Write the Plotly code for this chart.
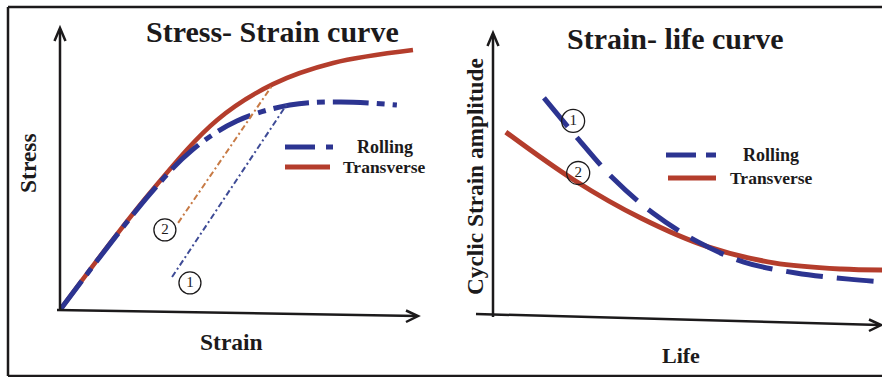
import plotly.graph_objects as go

W, H = 882, 377

# ---- Stress-strain panel (normalised units) ----
strain_transverse = [0, 0.251, 0.439, 0.595, 0.763, 0.986]
stress_transverse = [0, 0.415, 0.674, 0.801, 0.876, 0.922]

strain_rolling = [0, 0.251, 0.369, 0.494, 0.642, 0.782, 0.941]
stress_rolling = [0, 0.411, 0.567, 0.670, 0.727, 0.738, 0.727]

# elastic unloading lines: (strain, stress) start and end
unload_rolling_x = [0.313, 0.634]
unload_rolling_y = [0.117, 0.730]
unload_transverse_x = [0.330, 0.592]
unload_transverse_y = [0.309, 0.795]

marker_labels_left = ["1", "2"]
marker_x_left = [0.363, 0.293]
marker_y_left = [0.096, 0.284]

# ---- Strain-life panel (normalised units) ----
life_transverse = [0.033, 0.208, 0.380, 0.553, 0.722, 0.895, 1.0]
amp_transverse = [0.646, 0.475, 0.339, 0.236, 0.179, 0.157, 0.154]

life_rolling = [0.131, 0.221, 0.308, 0.411, 0.527, 0.645, 0.779, 0.915, 1.0]
amp_rolling = [0.768, 0.618, 0.482, 0.357, 0.254, 0.182, 0.143, 0.121, 0.111]

marker_labels_right = ["1", "2"]
marker_x_right = [0.206, 0.219]
marker_y_right = [0.686, 0.500]

series_names = ["Rolling", "Transverse"]

BLUE = "#2c3491"
RED = "#b43d2c"
ORANGE = "#c77a45"
SLATE = "#3e4b96"
INK = "#1c1a1b"
FONT = "Liberation Serif"


def fx(px):
    return px / W


def fy(py):
    return 1 - py / H


fig = go.Figure()

# left panel curves
fig.add_trace(go.Scatter(x=strain_transverse, y=stress_transverse, mode="lines",
                         line=dict(color=RED, width=4.5, shape="spline", smoothing=1.0),
                         xaxis="x", yaxis="y", hoverinfo="skip"))
fig.add_trace(go.Scatter(x=strain_rolling, y=stress_rolling, mode="lines",
                         line=dict(color=BLUE, width=5, shape="spline", smoothing=1.0,
                                   dash="36px,8px,8px,8px"),
                         xaxis="x", yaxis="y", hoverinfo="skip"))
fig.add_trace(go.Scatter(x=unload_transverse_x, y=unload_transverse_y, mode="lines",
                         line=dict(color=ORANGE, width=2, dash="6px,3px,2px,3px"),
                         xaxis="x", yaxis="y", hoverinfo="skip"))
fig.add_trace(go.Scatter(x=unload_rolling_x, y=unload_rolling_y, mode="lines",
                         line=dict(color=SLATE, width=2, dash="6px,3px,2px,3px"),
                         xaxis="x", yaxis="y", hoverinfo="skip"))
fig.add_trace(go.Scatter(x=marker_x_left, y=marker_y_left, mode="markers+text",
                         text=marker_labels_left, textposition="middle center",
                         textfont=dict(family=FONT, size=15, color=INK),
                         marker=dict(size=22, color="white", line=dict(color=INK, width=1.3)),
                         xaxis="x", yaxis="y", hoverinfo="skip"))

# right panel curves
fig.add_trace(go.Scatter(x=life_transverse, y=amp_transverse, mode="lines",
                         line=dict(color=RED, width=5, shape="spline", smoothing=1.0),
                         xaxis="x2", yaxis="y2", hoverinfo="skip"))
fig.add_trace(go.Scatter(x=life_rolling, y=amp_rolling, mode="lines",
                         line=dict(color=BLUE, width=5, shape="spline", smoothing=1.0,
                                   dash="37px,14px"),
                         xaxis="x2", yaxis="y2", hoverinfo="skip"))
fig.add_trace(go.Scatter(x=marker_x_right, y=marker_y_right, mode="markers+text",
                         text=marker_labels_right, textposition="middle center",
                         textfont=dict(family=FONT, size=15, color=INK),
                         marker=dict(size=23, color="rgba(255,255,255,0)",
                                     line=dict(color=INK, width=1.3)),
                         xaxis="x2", yaxis="y2", hoverinfo="skip"))

shapes = []


def seg(x0, y0, x1, y1, color=INK, width=2.5, dash="solid"):
    shapes.append(dict(type="line", xref="paper", yref="paper",
                       x0=fx(x0), y0=fy(y0), x1=fx(x1), y1=fy(y1),
                       line=dict(color=color, width=width, dash=dash)))


def path(points, color=INK, width=2.5):
    d = "M " + " L ".join(f"{fx(a):.5f},{fy(b):.5f}" for a, b in points)
    shapes.append(dict(type="path", xref="paper", yref="paper", path=d,
                       line=dict(color=color, width=width)))


# outer frame
seg(8, 7, 882, 7)
seg(8, 7, 8, 376)
seg(8, 376, 882, 376)

# left axes with arrows
seg(60, 311, 60, 29)
path([(54.5, 41), (60, 28), (65.5, 41)])
seg(57, 310, 417, 316)
path([(406, 310.5), (418, 316), (406, 322)])

# right axes with arrows
seg(493, 317, 493, 34)
path([(487.5, 46), (493, 33), (498.5, 46)])
seg(476, 314, 880, 325)
path([(869, 319.5), (881, 325), (869, 331)])

# legend samples
seg(285, 147, 315, 147, color=BLUE, width=5)
seg(326, 147, 333, 147, color=BLUE, width=5)
seg(285, 167, 330, 167, color=RED, width=5)
seg(666, 155, 696, 155, color=BLUE, width=5)
seg(706, 155, 716, 155, color=BLUE, width=5)
seg(668, 178, 716, 178, color=RED, width=5)

annotations = []


def label(txt, x, y, size, angle=0):
    annotations.append(dict(text=f"<b>{txt}</b>", xref="paper", yref="paper",
                            x=fx(x), y=fy(y), xanchor="center", yanchor="middle",
                            showarrow=False, textangle=angle,
                            font=dict(family=FONT, size=size, color=INK)))


label("Stress- Strain curve", 272, 31, 30)
label("Strain- life curve", 675, 39, 30)
label("Stress", 28, 163, 23.5, -90)
label("Strain", 232, 342, 23.5)
label("Cyclic Strain amplitude", 475, 177, 23.3, -90)
label("Life", 681, 355, 22)
label(series_names[0], 385, 147, 18)
label(series_names[1], 384, 167, 17.5)
label(series_names[0], 771, 155, 18)
label(series_names[1], 771, 178, 17.5)

hidden = dict(visible=False, fixedrange=True)
fig.update_layout(
    width=W, height=H,
    margin=dict(l=0, r=0, t=0, b=0),
    paper_bgcolor="white", plot_bgcolor="white",
    showlegend=False,
    xaxis=dict(domain=[fx(60), fx(418)], range=[0, 1], anchor="y", **hidden),
    yaxis=dict(domain=[fy(310), fy(28)], range=[0, 1], anchor="x", **hidden),
    xaxis2=dict(domain=[fx(493), 1.0], range=[0, 1], anchor="y2", **hidden),
    yaxis2=dict(domain=[fy(313), fy(33)], range=[0, 1], anchor="x2", **hidden),
    shapes=shapes,
    annotations=annotations,
)

fig.write_html("out.html", config={"displayModeBar": False})
